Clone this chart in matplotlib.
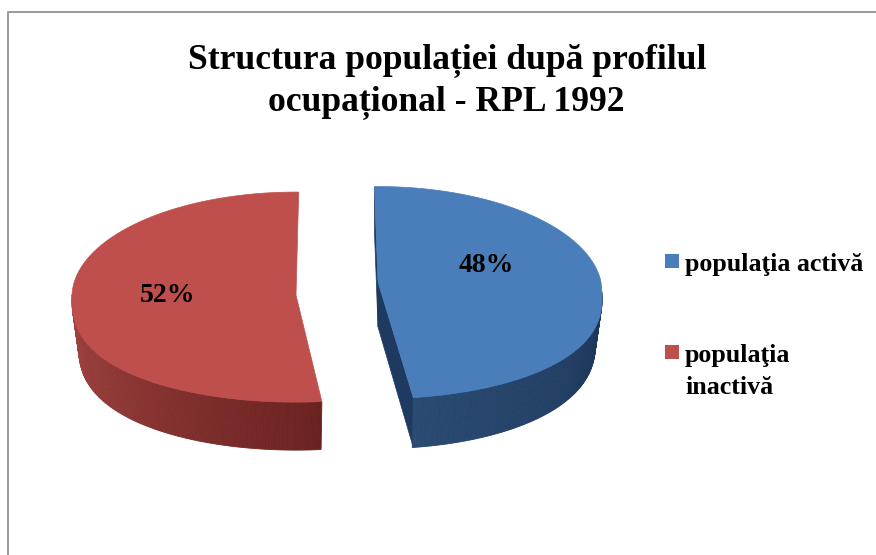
import numpy as np
import matplotlib
matplotlib.use("Agg")
from matplotlib import pyplot as plt
from matplotlib.colors import to_rgb

plt.rcParams["font.family"] = ["Liberation Serif", "DejaVu Serif"]

# valori
categories = ["populaţia activă", "populaţia\ninactivă"]
values = [48, 52]
title = "Structura populației după profilul\nocupațional - RPL 1992"

W, H = 876, 555
fig = plt.figure(figsize=(W / 100, H / 100), dpi=100)
ax = fig.add_axes([0, 0, 1, 1])
ax.set_xlim(0, W)
ax.set_ylim(H, 0)
ax.axis("off")

# cadrul
ax.plot([8, 8, W], [H, 12, 12], color="#9a9a9a", lw=1.4)


def rim(t, cx, cy, rx, ry, p):
    s = np.sin(t)
    f = 1 / (1 + p * s)
    # jumatatea din fata e putin mai plina decat o elipsa
    s2 = np.where(s < 0, -np.abs(s) ** 0.8, s)
    return cx + rx * np.cos(t) * f, cy - ry * s2 * f, f


def mix(c1, c2, k):
    c1, c2 = np.array(to_rgb(c1)), np.array(to_rgb(c2))
    return tuple(c1 + (c2 - c1) * k)


def draw_side(t, s, depth, c1, c2):
    x, y, f = rim(t, *s)
    xb = s[0] + (x - s[0]) * 0.97
    n = len(t) - 1
    for i in range(n):
        col = mix(c1, c2, i / n)
        ax.fill([x[i], x[i + 1], xb[i + 1], xb[i]],
                [y[i], y[i + 1], y[i + 1] + depth * f[i + 1], y[i] + depth * f[i]],
                color=col, lw=0.6)


# felia rosie: de la capatul feliei albastre, in sensul acelor de ceasornic
red_span = np.radians(values[1] * 3.6)
red_start = np.radians(-83.5)
red = (296, 295, 224, 105, 0.02)
t = np.linspace(red_start, red_start - red_span, 200)
side_t = np.linspace(np.radians(-180), red_start, 120)
draw_side(side_t, red, 47, "#a34542", "#6a2220")
x, y, f = rim(t, *red)
ax.fill(np.r_[red[0], x], np.r_[red[1], y], color="#bf4f4c", lw=0.5)

# felia albastra
blue_span = np.radians(values[0] * 3.6)
blue_start = np.radians(91)
blue = (378, 282, 223, 105, 0.1)
t = np.linspace(blue_start, blue_start - blue_span, 200)
x, y, f = rim(t, *blue)
depth = 45
ax.fill([x[0], blue[0], blue[0], x[0]], [y[0], blue[1], blue[1] + depth, y[0] + depth],
        color="#1f3a60", lw=0.5)
ax.fill([blue[0], x[-1], x[-1], blue[0]],
        [blue[1], y[-1], y[-1] + depth * f[-1], blue[1] + depth],
        color="#1f3a60", lw=0.5)
side_t = np.linspace(t[-1], np.radians(-3), 120)
draw_side(side_t, blue, depth, "#2a4a72", "#1c3558")
ax.fill(np.r_[blue[0], x], np.r_[blue[1], y], color="#4a7ebb", lw=0.5)

# etichete procente
ax.text(486, 265, f"{values[0]}%", fontsize=20, fontweight="bold", ha="center", va="center")
ax.text(168, 295, f"{values[1]}%", fontsize=20, fontweight="bold", ha="center", va="center")

# titlu
lines = title.split("\n")
ax.text(447, 68, lines[0], fontsize=25.6, fontweight="bold", ha="center", va="baseline")
ax.text(446, 110, lines[1], fontsize=25.6, fontweight="bold", ha="center", va="baseline")

# legenda
ax.fill([665, 679, 679, 665], [254, 254, 268, 268], color="#4a7ebb", lw=0)
ax.fill([665, 679, 679, 665], [345, 345, 359, 359], color="#bf4f4c", lw=0)
ax.text(685, 271, categories[0], fontsize=18.7, fontweight="bold", va="baseline")
legend2 = categories[1].split("\n")
ax.text(685, 362, legend2[0], fontsize=18.7, fontweight="bold", va="baseline")
ax.text(685, 394, legend2[1], fontsize=18.7, fontweight="bold", va="baseline")

fig.savefig("out.png", dpi=100)
